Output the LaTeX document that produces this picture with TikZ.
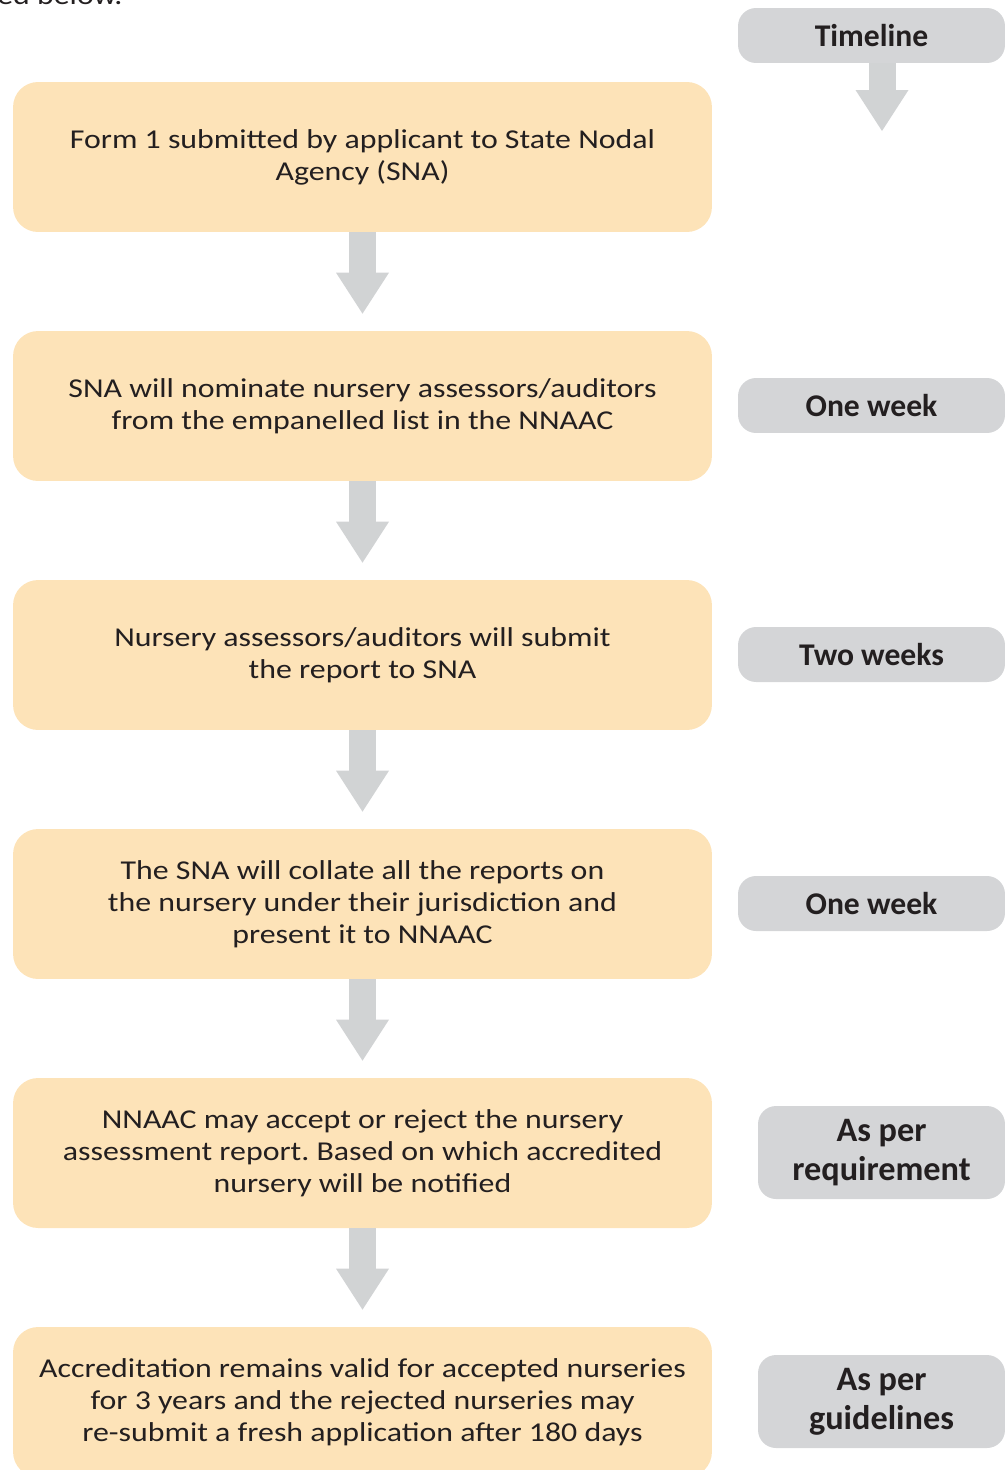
\documentclass[tikz,border=0pt]{standalone}
\usepackage{fontspec}
\setmainfont{Carlito}
\newfontfamily\stagefont[FakeStretch=1.17]{Carlito}
\usetikzlibrary{arrows.meta}
\definecolor{stagefill}{HTML}{FDE3B8}
\definecolor{timefill}{HTML}{D4D5D7}
\definecolor{arrowgray}{HTML}{D1D3D4}
\definecolor{inkgray}{HTML}{231F20}
\frenchspacing

\begin{document}
\begin{tikzpicture}[
    x=0.02cm, y=-0.02cm,
    stagebox/.style={fill=stagefill, rounded corners=0.5cm, minimum width=13.98cm, minimum height=3cm, inner sep=0pt, align=center, text=inkgray, font=\stagefont\fontsize{15.5}{18.2}\selectfont},
    timebox/.style={fill=timefill, rounded corners=0.36cm, minimum width=5.34cm, minimum height=1.1cm, inner sep=0pt, align=center, text=inkgray, font=\bfseries\fontsize{18}{22}\selectfont},
    tallbox/.style={timebox, minimum width=4.94cm, minimum height=1.86cm, font=\bfseries\fontsize{19.5}{22}\selectfont},
    flowarrow/.style={draw=arrowgray, line width=0.54cm, -{Triangle[length=0.82cm, width=1.06cm, line width=0pt]}},
]
\useasboundingbox (0,0) rectangle (1006,1470);

% Nodes
\node[anchor=base west, text=inkgray, font=\stagefont\fontsize{15.5}{18.2}\selectfont, inner sep=0pt] (intro) at (-3, 5) {ed below.};

\node[stagebox] (step1) at (362.5, 157) {Form 1 submitted by applicant to State Nodal\\Agency (SNA)};
\node[stagebox] (step2) at (362.5, 406) {SNA will nominate nursery assessors/auditors\\from the empanelled list in the NNAAC};
\node[stagebox] (step3) at (362.5, 655) {Nursery assessors/auditors will submit\\the report to SNA};
\node[stagebox] (step4) at (362.5, 904) {The SNA will collate all the reports on\\the nursery under their jurisdiction and\\present it to NNAAC};
\node[stagebox] (step5) at (362.5, 1153) {NNAAC may accept or reject the nursery\\assessment report. Based on which accredited\\nursery will be notified};
\node[stagebox] (step6) at (362.5, 1402) {Accreditation remains valid for accepted nurseries\\for 3 years and the rejected nurseries may\\re-submit a fresh application after 180 days};

\node[timebox] (timeline) at (871.5, 35.5) {Timeline};
\node[timebox] (time2) at (871.5, 405.5) {One week};
\node[timebox] (time3) at (871.5, 654.5) {Two weeks};
\node[timebox] (time4) at (871.5, 903.5) {One week};
\node[tallbox] (time5) at (881.5, 1152.5) {As per\\requirement};
\node[tallbox] (time6) at (881.5, 1401.5) {As per\\guidelines};

\coordinate (tlend) at (882, 131);

% Edges
\draw[flowarrow] (tlend |- timeline.south) -- (tlend);
\draw[flowarrow, shorten >=0.34cm] (step1) -- (step2);
\draw[flowarrow, shorten >=0.34cm] (step2) -- (step3);
\draw[flowarrow, shorten >=0.34cm] (step3) -- (step4);
\draw[flowarrow, shorten >=0.34cm] (step4) -- (step5);
\draw[flowarrow, shorten >=0.34cm] (step5) -- (step6);

\end{tikzpicture}
\end{document}
